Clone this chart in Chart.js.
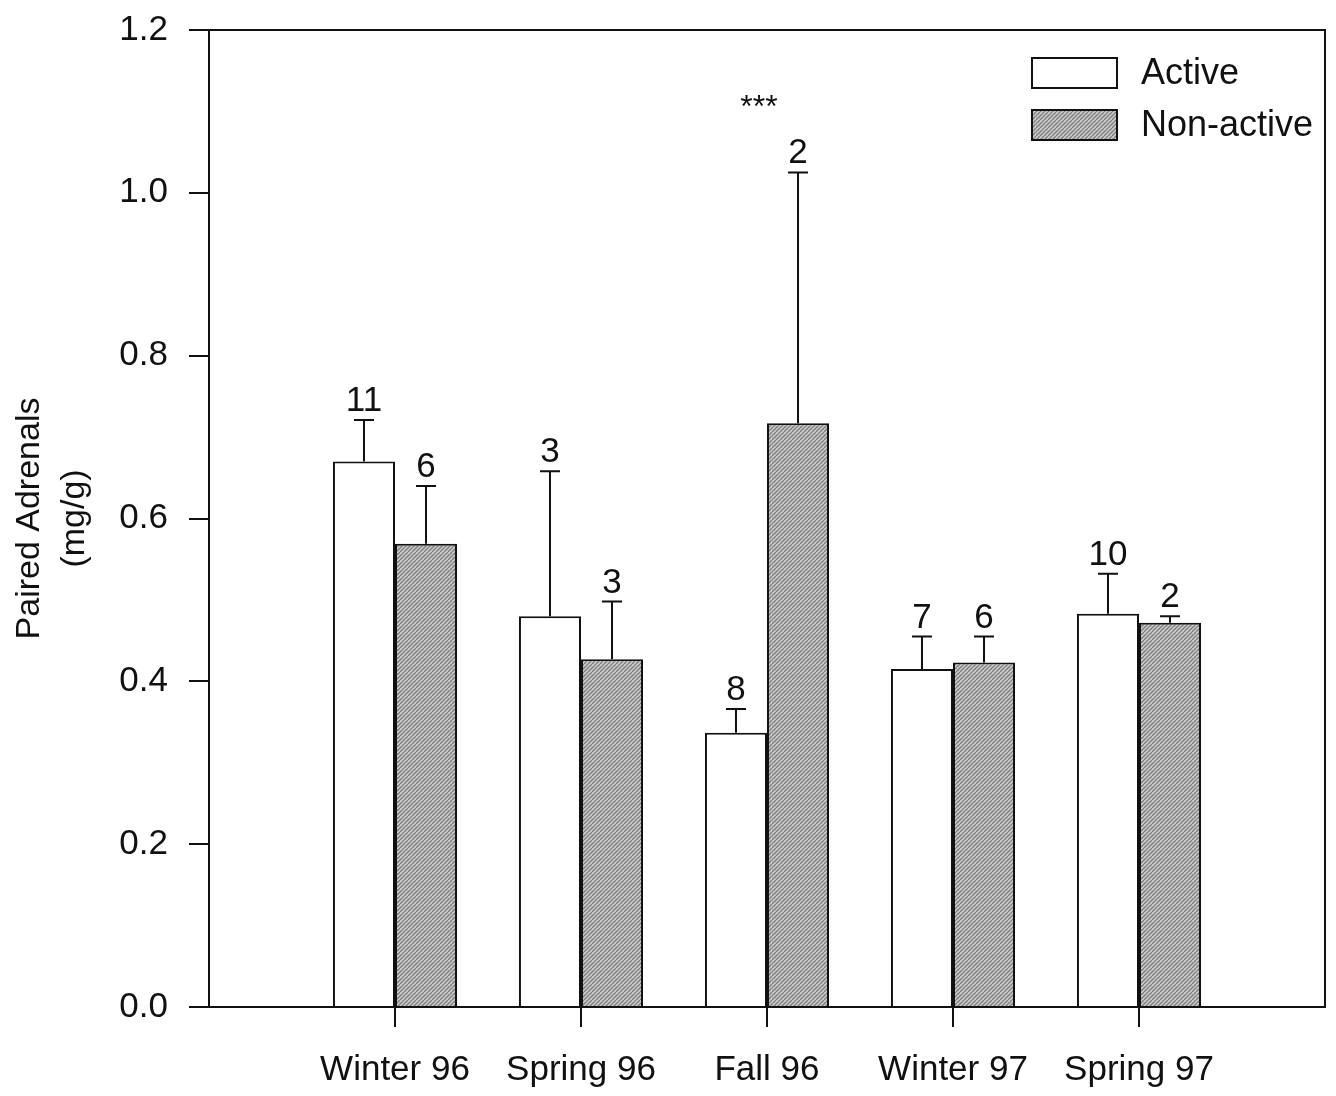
<!DOCTYPE html>
<html>
<head>
<meta charset="utf-8">
<title>Paired Adrenals</title>
<script src="https://cdn.jsdelivr.net/npm/chart.js@4.4.1/dist/chart.umd.min.js"></script>
<style>
  html, body { margin: 0; padding: 0; background: #fff; }
  #wrap { width: 1336px; height: 1096px; }
</style>
</head>
<body>
<div id="wrap"><canvas id="adrenalChart" width="1336" height="1096"></canvas></div>
<script>
// seasons (blank slots at both ends keep the frame one category wide on each side)
const seasons = ['', 'Winter 96', 'Spring 96', 'Fall 96', 'Winter 97', 'Spring 97', ''];

const activeMean    = [null, 0.67, 0.48, 0.337, 0.415, 0.483, null];
const activeErr     = [null, 0.721, 0.658, 0.366, 0.455, 0.532, null];
const activeN       = [null, '11', '3', '8', '7', '10', null];

const nonActiveMean = [null, 0.569, 0.427, 0.717, 0.423, 0.472, null];
const nonActiveErr  = [null, 0.640, 0.498, 1.025, 0.455, 0.480, null];
const nonActiveN    = [null, '6', '3', '2', '6', '2', null];

const yTicks = [0, 0.2, 0.4, 0.6, 0.8, 1.0, 1.2];

// significance marker over Fall 96
const sigIndex = 3;
const sigLevel = 1.12;
const sigText = '***';

const FONT = "'Liberation Sans', Arial, sans-serif";

// grey stipple with fine diagonal hatching
function hatchPattern() {
    const c = document.createElement('canvas');
    c.width = 8; c.height = 8;
    const g = c.getContext('2d');
    g.fillStyle = '#cbcbcb';
    g.fillRect(0, 0, 8, 8);
    g.strokeStyle = '#7e7e7e';
    g.lineWidth = 1.3;
    for (let k = -8; k <= 16; k += 4) {
        g.beginPath();
        g.moveTo(k, 8);
        g.lineTo(k + 8, 0);
        g.stroke();
    }
    g.fillStyle = 'rgba(255,255,255,0.35)';
    g.fillRect(1, 1, 1, 1);
    g.fillRect(5, 3, 1, 1);
    g.fillRect(3, 6, 1, 1);
    return g.createPattern(c, 'repeat');
}

const ctx = document.getElementById('adrenalChart').getContext('2d');
const nonActiveFill = hatchPattern();

// frame, error bars, n labels, significance stars and legend
const decorPlugin = {
    id: 'decor',
    afterDatasetsDraw(chart) {
        const g = chart.ctx;
        const area = chart.chartArea;
        const y = chart.scales.y;
        const x = chart.scales.x;

        g.save();
        g.strokeStyle = '#111';
        g.lineWidth = 2;
        g.beginPath();
        g.moveTo(area.left, area.top);
        g.lineTo(area.right, area.top);
        g.lineTo(area.right, area.bottom);
        g.stroke();

        const errs = [activeErr, nonActiveErr];
        const ns = [activeN, nonActiveN];
        g.font = '35px ' + FONT;
        g.fillStyle = '#111';
        g.textAlign = 'center';
        g.textBaseline = 'alphabetic';
        chart.data.datasets.forEach((ds, di) => {
            const meta = chart.getDatasetMeta(di);
            meta.data.forEach((bar, i) => {
                if (ds.data[i] == null) return;
                const top = y.getPixelForValue(ds.data[i]);
                const cap = y.getPixelForValue(errs[di][i]);
                g.beginPath();
                g.moveTo(bar.x, top);
                g.lineTo(bar.x, cap);
                g.moveTo(bar.x - 10, cap);
                g.lineTo(bar.x + 10, cap);
                g.stroke();
                g.fillText(ns[di][i], bar.x, cap - 9);
            });
        });

        g.font = '32px ' + FONT;
        g.fillText(sigText, x.getPixelForValue(sigIndex) - 8, y.getPixelForValue(sigLevel) + 22);

        // legend
        const fills = ['#fff', nonActiveFill];
        g.font = '36px ' + FONT;
        g.textAlign = 'left';
        g.textBaseline = 'middle';
        chart.data.datasets.forEach((ds, di) => {
            const bx = 1032, by = 58 + di * 52;
            g.fillStyle = fills[di];
            g.fillRect(bx, by, 85, 30);
            g.lineWidth = 2;
            g.strokeRect(bx, by, 85, 30);
            g.fillStyle = '#111';
            g.fillText(ds.label, 1141, by + 16);
        });
        g.restore();
    }
};

new Chart(ctx, {
    type: 'bar',
    data: {
        labels: seasons,
        datasets: [
            {
                label: 'Active',
                data: activeMean,
                backgroundColor: '#fff',
                borderColor: '#111',
                borderWidth: 2,
                borderSkipped: 'bottom'
            },
            {
                label: 'Non-active',
                data: nonActiveMean,
                backgroundColor: nonActiveFill,
                borderColor: '#111',
                borderWidth: 2,
                borderSkipped: 'bottom'
            }
        ]
    },
    options: {
        responsive: false,
        animation: false,
        layout: { padding: { top: 30, right: 11, left: 0, bottom: 0 } },
        categoryPercentage: 0.667,
        barPercentage: 1,
        plugins: {
            legend: { display: false },
            tooltip: { enabled: false }
        },
        scales: {
            x: {
                offset: false,
                grid: {
                    offset: false,
                    drawOnChartArea: false,
                    tickLength: 20,
                    lineWidth: 2,
                    color: c => (c.index === 0 || c.index === seasons.length - 1) ? 'rgba(0,0,0,0)' : '#111'
                },
                border: { color: '#111', width: 2 },
                ticks: {
                    color: '#111',
                    font: { family: FONT, size: 35 },
                    padding: 22,
                    maxRotation: 0,
                    autoSkip: false
                },
                afterFit: s => {
                    s.height = 89;
                    s.paddingLeft = 0;
                    s.paddingRight = 0;
                }
            },
            y: {
                min: 0,
                max: 1.2,
                afterBuildTicks: s => { s.ticks = yTicks.map(v => ({ value: v })); },
                grid: {
                    drawOnChartArea: false,
                    tickLength: 20,
                    lineWidth: 2,
                    color: '#111'
                },
                border: { color: '#111', width: 2 },
                ticks: {
                    color: '#111',
                    font: { family: FONT, size: 35 },
                    padding: 21,
                    callback: v => v.toFixed(1)
                },
                title: {
                    display: true,
                    text: ['Paired Adrenals', '(mg/g)'],
                    color: '#111',
                    font: { family: FONT, size: 34, lineHeight: 1.3 },
                    padding: { top: 8, bottom: 0 }
                },
                afterFit: s => {
                    s.width = 209;
                    s.paddingTop = 0;
                    s.paddingBottom = 0;
                }
            }
        }
    },
    plugins: [decorPlugin]
});
</script>
</body>
</html>
